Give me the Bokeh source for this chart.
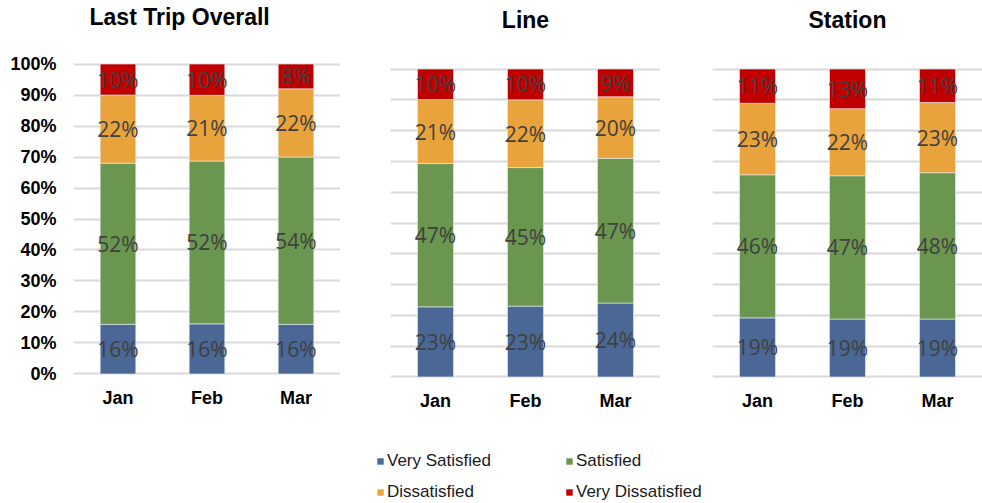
import numpy as np
from bokeh.plotting import figure
from bokeh.models import (ColumnDataSource, Range1d, FactorRange, NumeralTickFormatter,
                          SingleIntervalTicker, Legend, LegendItem, Title)
from bokeh.core.properties import value
from bokeh.layouts import column, row
from bokeh.embed import file_html
from bokeh.resources import INLINE

# ---- data -------------------------------------------------------------
months = ["Jan", "Feb", "Mar"]
levels = ["Very Satisfied", "Satisfied", "Dissatisfied", "Very Dissatisfied"]
colors = ["#4a6795", "#6a964f", "#e8a33d", "#c00000"]

overall_very_satisfied = [16, 16, 16]
overall_satisfied = [52, 52, 54]
overall_dissatisfied = [22, 21, 22]
overall_very_dissatisfied = [10, 10, 8]

line_very_satisfied = [23, 23, 24]
line_satisfied = [47, 45, 47]
line_dissatisfied = [21, 22, 20]
line_very_dissatisfied = [10, 10, 9]

station_very_satisfied = [19, 19, 19]
station_satisfied = [46, 47, 48]
station_dissatisfied = [23, 22, 23]
station_very_dissatisfied = [11, 13, 11]

panel_titles = ["Last Trip Overall", "Line", "Station"]

keys = ["vs", "s", "d", "vd"]
BOLD_FONT = "Liberation Sans"


def make_panel(title, counts, width, border_left, border_top, frame_h, title_gap,
               title_align, title_offset, show_y):
    height = 430
    arr = np.array(counts, dtype=float)          # (levels, months)
    shares = arr / arr.sum(axis=0)               # 100% stacked
    tops = np.cumsum(shares, axis=0)
    mids = tops - shares / 2

    src = ColumnDataSource(dict(month=months, **{k: sh for k, sh in zip(keys, shares)}))

    p = figure(x_range=FactorRange(*months), y_range=Range1d(-0.005, 1.005),
               width=width, height=height, output_backend="svg", toolbar_location=None,
               min_border_left=border_left, min_border_right=0,
               min_border_top=border_top, min_border_bottom=height - border_top - frame_h)
    p.outline_line_color = None
    p.background_fill_color = "white"
    p.border_fill_color = "white"

    p.vbar_stack(keys, x="month", width=0.4, color=colors, source=src,
                 line_color="#e8ecf2", line_width=0.6)

    lab_src = ColumnDataSource(dict(
        month=[m for _ in keys for m in months],
        mid=mids.flatten(),
        label=[f"{int(v)}%" for v in arr.flatten()],
    ))
    p.text(x="month", y="mid", text="label", source=lab_src,
           text_align="center", text_baseline="middle",
           text_font=value("Open Sans"), text_font_size="21px", text_color="#404040")

    # heading: a blank spacer next to the frame, then the heading itself
    p.add_layout(Title(text=" ", text_font_size="1px", standoff=title_gap), "above")
    p.add_layout(Title(text=title, text_font=BOLD_FONT, text_font_size="23px",
                       text_font_style="bold", text_color="black", align=title_align,
                       offset=title_offset, standoff=0), "above")

    # grid
    p.xgrid.visible = False
    p.ygrid.ticker = SingleIntervalTicker(interval=0.1, num_minor_ticks=0)
    p.ygrid.grid_line_color = "#d9d9d9"
    p.ygrid.grid_line_width = 2

    # x axis
    p.xaxis.axis_line_color = None
    p.xaxis.major_tick_line_color = None
    p.xaxis.minor_tick_line_color = None
    p.xaxis.major_tick_out = 0
    p.xaxis.major_label_standoff = 12
    p.xaxis.major_label_text_font = BOLD_FONT
    p.xaxis.major_label_text_font_style = "bold"
    p.xaxis.major_label_text_font_size = "18px"
    p.xaxis.major_label_text_color = "black"

    # y axis
    if show_y:
        p.yaxis.ticker = SingleIntervalTicker(interval=0.1, num_minor_ticks=0)
        p.yaxis.formatter = NumeralTickFormatter(format="0%")
        p.yaxis.axis_line_color = None
        p.yaxis.major_tick_line_color = None
        p.yaxis.minor_tick_line_color = None
        p.yaxis.major_tick_out = 0
        p.yaxis.major_label_standoff = 17
        p.yaxis.major_label_text_font = BOLD_FONT
        p.yaxis.major_label_text_font_style = "bold"
        p.yaxis.major_label_text_font_size = "18px"
        p.yaxis.major_label_text_color = "black"
    else:
        p.yaxis.visible = False
    return p


p1 = make_panel(panel_titles[0],
                [overall_very_satisfied, overall_satisfied, overall_dissatisfied, overall_very_dissatisfied],
                width=340, border_left=73, border_top=62, frame_h=313, title_gap=30,
                title_align="left", title_offset=16, show_y=True)
p2 = make_panel(panel_titles[1],
                [line_very_satisfied, line_satisfied, line_dissatisfied, line_very_dissatisfied],
                width=320, border_left=50, border_top=67, frame_h=311, title_gap=32,
                title_align="center", title_offset=0, show_y=False)
p3 = make_panel(panel_titles[2],
                [station_very_satisfied, station_satisfied, station_dissatisfied, station_very_dissatisfied],
                width=322, border_left=52, border_top=67, frame_h=311, title_gap=32,
                title_align="center", title_offset=0, show_y=False)

# ---- legend strip -------------------------------------------------------
leg = figure(width=982, height=73, output_backend="svg", toolbar_location=None,
             x_range=Range1d(0, 1), y_range=Range1d(0, 1),
             min_border=0, min_border_left=0, min_border_right=0,
             min_border_top=0, min_border_bottom=0)
leg.axis.visible = False
leg.grid.visible = False
leg.outline_line_color = None

# swatch proxies, parked outside the visible range
proxies = []
for c in colors:
    r = leg.vbar(x=[-5], top=[-5], width=0.1, fill_color=c, line_color=None)
    proxies.append(r)


def add_legend(items, loc):
    lg = Legend(items=items, location=loc, orientation="vertical",
                padding=0, margin=0, spacing=11, label_height=20,
                glyph_width=8, glyph_height=8, label_standoff=3,
                label_text_font="Liberation Sans", label_text_font_size="17px",
                label_text_color="#1a1a1a", border_line_color=None,
                background_fill_alpha=0)
    leg.add_layout(lg)


add_legend([LegendItem(label=levels[0], renderers=[proxies[0]]),
            LegendItem(label=levels[2], renderers=[proxies[2]])], (376, 1))
add_legend([LegendItem(label=levels[1], renderers=[proxies[1]]),
            LegendItem(label=levels[3], renderers=[proxies[3]])], (565, 1))

layout = column(row(column(p1), column(p2), column(p3)), leg)

open("out.html", "w").write(file_html(layout, INLINE))
